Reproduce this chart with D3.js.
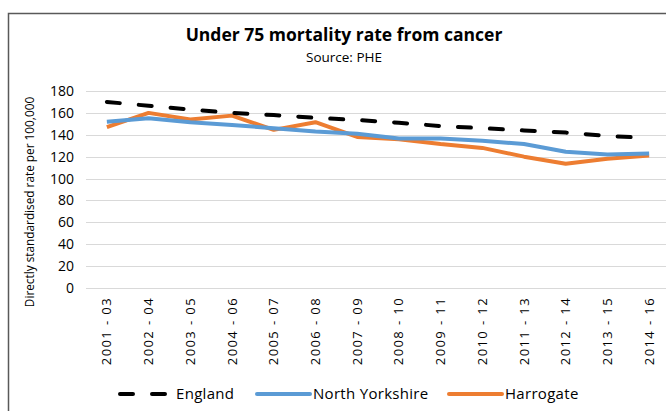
<!DOCTYPE html>
<html>
<head>
<meta charset="utf-8">
<script src="https://cdn.jsdelivr.net/npm/d3@7"></script>
<style>
  body { margin: 0; background: #fff; }
  svg { display: block; font-family: "Open Sans", "Noto Sans", sans-serif; }
</style>
</head>
<body>
<div id="chart"></div>
<script>
'use strict';

/**** Chart data ****/
var periods = ['2001 - 03', '2002 - 04', '2003 - 05', '2004 - 06', '2005 - 07', '2006 - 08', '2007 - 09',
               '2008 - 10', '2009 - 11', '2010 - 12', '2011 - 13', '2012 - 14', '2013 - 15', '2014 - 16'];
var england = [170, 166.5, 163, 160, 158, 155.5, 153.5, 151, 148, 146, 144, 142, 139, 137];
var northYorkshire = [152, 155, 151.5, 149, 146, 143, 141, 136.5, 136.5, 134.5, 131.5, 124.5, 122, 123];
var harrogate = [147, 160, 154, 157.5, 144.5, 151.5, 138, 136, 131.5, 128, 120, 113.5, 118, 121];
var yTicks = [0, 20, 40, 60, 80, 100, 120, 140, 160, 180];

var series = [
    { name: 'England', values: england, color: '#000000', dash: '13,19' },
    { name: 'North Yorkshire', values: northYorkshire, color: '#5B9BD5', dash: null },
    { name: 'Harrogate', values: harrogate, color: '#ED7D31', dash: null }
];

var width = 666, height = 411;
var plot = { left: 86, right: 670, top: 91, bottom: 288 };

var svg = d3.select('#chart')
    .append('svg')
        .attr('width', width)
        .attr('height', height);

//Chart frame (right and bottom edges are cropped off)
svg.append('path')
    .attr('d', 'M8.5,' + height + 'V13.5H' + width)
    .attr('fill', 'none')
    .attr('stroke', '#595959')
    .attr('stroke-width', 1.5);

//Titles
svg.append('text')
    .attr('x', 344).attr('y', 41)
    .attr('text-anchor', 'middle')
    .style('font-size', '17.5px').style('font-weight', 'bold')
    .attr('fill', '#000')
    .text('Under 75 mortality rate from cancer');
svg.append('text')
    .attr('x', 344).attr('y', 62)
    .attr('text-anchor', 'middle')
    .style('font-size', '13.5px')
    .attr('fill', '#000')
    .text('Source: PHE');

//Scales
var x = d3.scaleBand().domain(periods).range([plot.left, plot.right]);
var y = d3.scaleLinear().domain([0, 180]).range([plot.bottom, plot.top]);
var cx = function(d, i) { return x(periods[i]) + x.bandwidth() / 2; };

//Gridlines
svg.append('g')
    .selectAll('line')
    .data(yTicks)
    .enter()
    .append('line')
        .attr('x1', plot.left).attr('x2', plot.right)
        .attr('y1', function(d) { return Math.round(y(d)) + 0.5; })
        .attr('y2', function(d) { return Math.round(y(d)) + 0.5; })
        .attr('stroke', '#d9d9d9')
        .attr('stroke-width', 1);

//Y axis labels
var yAxis = svg.append('g')
    .attr('transform', 'translate(' + (plot.left - 12) + ',0)')
    .call(d3.axisLeft(y).tickValues(yTicks).tickSize(0).tickPadding(0));
yAxis.select('.domain').remove();
yAxis.selectAll('text')
    .attr('fill', '#000')
    .style('font-size', '14px')
    .style('font-family', '"Open Sans", sans-serif');

//X axis labels, rotated
var xAxis = svg.append('g')
    .attr('transform', 'translate(0,' + plot.bottom + ')')
    .call(d3.axisBottom(x).tickSize(0).tickPadding(0));
xAxis.select('.domain').remove();
xAxis.selectAll('text')
    .attr('fill', '#000')
    .style('font-size', '13px')
    .style('letter-spacing', '1.4px')
    .style('font-family', '"Open Sans", sans-serif')
    .attr('text-anchor', 'end')
    .attr('dy', '0.35em')
    .attr('transform', 'translate(0,9) rotate(-90)');

//Y axis title
svg.append('text')
    .attr('transform', 'translate(34,202) rotate(-90)')
    .attr('text-anchor', 'middle')
    .style('font-size', '11.8px')
    .attr('fill', '#000')
    .text('Directly standardised rate per 100,000');

//Lines
var line = d3.line()
    .x(cx)
    .y(function(d) { return y(d); });

svg.append('g')
    .selectAll('path')
    .data(series.slice().reverse())
    .enter()
    .append('path')
        .attr('d', function(s) { return line(s.values); })
        .attr('fill', 'none')
        .attr('stroke', function(s) { return s.color; })
        .attr('stroke-width', 4)
        .attr('stroke-linejoin', 'round')
        .attr('stroke-linecap', function(s) { return s.dash ? 'round' : 'butt'; })
        .attr('stroke-dasharray', function(s) { return s.dash; });

//Legend
var legendPos = [118, 257, 449];
var legend = svg.append('g')
    .selectAll('g')
    .data(series)
    .enter()
    .append('g')
        .attr('transform', function(d, i) { return 'translate(' + legendPos[i] + ',394)'; });
legend.append('line')
    .attr('x1', function(d) { return d.dash ? 2 : 0; })
    .attr('x2', function(d) { return d.dash ? 48 : 53; })
    .attr('stroke', function(d) { return d.color; })
    .attr('stroke-width', 4)
    .attr('stroke-linecap', 'round')
    .attr('stroke-dasharray', function(d) { return d.dash ? '13,19' : null; });
legend.append('text')
    .attr('x', function(d) { return d.dash ? 58 : 56; })
    .attr('y', 5)
    .style('font-size', '15px')
    .style('letter-spacing', '0.3px')
    .attr('fill', '#000')
    .text(function(d) { return d.name; });
</script>
</body>
</html>
